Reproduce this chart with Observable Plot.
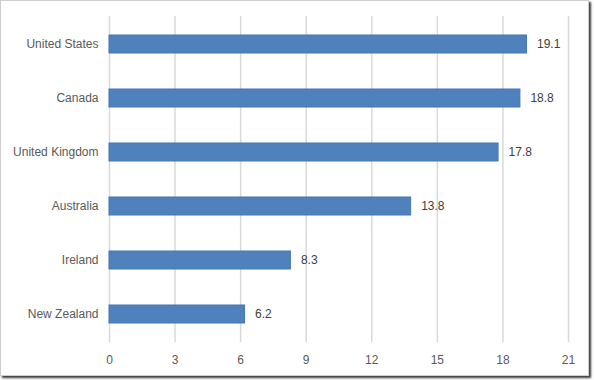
<!DOCTYPE html>
<html>
<head>
<meta charset="utf-8">
<script src="https://cdn.jsdelivr.net/npm/d3@7"></script>
<script src="https://cdn.jsdelivr.net/npm/@observablehq/plot@0.6"></script>
<style>
  html, body { margin: 0; padding: 0; background: #fff; }
  #frame {
    position: absolute; left: 0; top: 0;
    width: 587px; height: 374px;
    border: 1px solid #cfcfcf;
    box-shadow: 2px 2px 2px #3a3a3a;
    background: #fff;
  }
  #frame svg { display: block; }
</style>
</head>
<body>
<div id="frame"></div>
<script>
const countries = ["United States", "Canada", "United Kingdom", "Australia", "Ireland", "New Zealand"];
const values = [19.1, 18.8, 17.8, 13.8, 8.3, 6.2];
const xTicks = [0, 3, 6, 9, 12, 15, 18, 21];

const data = countries.map((c, i) => ({country: c, value: values[i]}));

const chart = Plot.plot({
  width: 587,
  height: 374,
  marginLeft: 108,
  marginRight: 20,
  marginTop: 15,
  marginBottom: 33,
  style: {fontFamily: "'Liberation Sans', Arial, sans-serif", fontSize: "12px", color: "#595959", background: "#fff"},
  x: {domain: [0, 21], ticks: xTicks, label: null},
  y: {domain: countries, paddingInner: 0.668, paddingOuter: 0.334, label: null},
  marks: [
    Plot.gridX(xTicks, {stroke: "#d9d9d9", strokeOpacity: 1, strokeWidth: 1.5}),
    Plot.axisX({ticks: xTicks, tickSize: 0, tickPadding: 13, label: null, fill: "#595959", fontSize: 12}),
    Plot.axisY({tickSize: 0, tickPadding: 11, label: null, fill: "#595959", fontSize: 12}),
    Plot.barX(data, {y: "country", x: "value", fill: "#4f81bd", stroke: "#4577b3", strokeWidth: 1}),
    Plot.text(data, {y: "country", x: "value", text: d => d.value.toFixed(1), textAnchor: "start", dx: 10, fill: "#404040", fontSize: 12})
  ]
});
document.getElementById("frame").appendChild(chart);
</script>
</body>
</html>
